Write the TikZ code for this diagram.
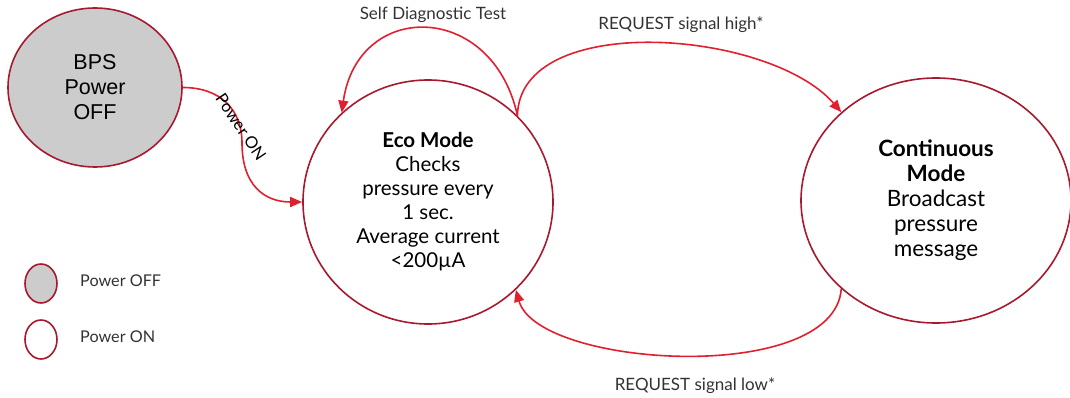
\documentclass[tikz,border=0pt]{standalone}
\usepackage{fontspec}
\setmainfont{Lato}
\newfontfamily\bpsfont{Liberation Sans}
\usetikzlibrary{arrows.meta,shapes.geometric}
\definecolor{stateborder}{HTML}{A6192E}
\definecolor{flowred}{HTML}{E0202F}
\definecolor{graytext}{HTML}{333333}
\definecolor{offgray}{HTML}{CCCCCC}
\begin{document}
\begin{tikzpicture}[x=1pt,y=-1pt,
	state/.style={ellipse,draw=stateborder,line width=1.6pt,align=center,inner sep=0},
	flow/.style={draw=flowred,line width=1.6pt,-{Triangle[length=12pt,width=10pt]}},
	tag/.style={text=graytext,inner sep=0,font=\fontsize{17}{20}\selectfont}]
\useasboundingbox (0,0) rectangle (1070,398);
% states
\node[state,fill=offgray,minimum width=174pt,minimum height=159pt,
	font=\bpsfont\fontsize{21.5}{25}\selectfont] (bps) at (95,87.5) {BPS\\Power\\OFF};
\node[state,minimum width=250pt,minimum height=244pt,
	font=\fontsize{20.5}{24}\selectfont] (eco) at (428,202)
	{{\bfseries Eco Mode}\\Checks\\pressure every\\1 sec.\\Average current\\<200µA};
\node[state,minimum width=270pt,minimum height=245pt,
	font=\fontsize{22.5}{25}\selectfont] (cont) at (936,200.5)
	{{\bfseries Continuous}\\{\bfseries Mode}\\Broadcast\\pressure\\message};
% legend
\node[state,fill=offgray,minimum width=32pt,minimum height=39pt] (keyoff) at (41,283.5) {};
\node[state,minimum width=32pt,minimum height=39pt] (keyon) at (41,339.5) {};
\node[tag,anchor=west,font=\fontsize{16.2}{19}\selectfont] (keyofftxt) at (80,281) {Power OFF};
\node[tag,anchor=west,font=\fontsize{16.2}{19}\selectfont] (keyontxt) at (80,337) {Power ON};
% transitions
\coordinate (bend) at (242,143);
\draw[flow] (bps.east) .. controls +(38,0) and +(0,-33) .. (bend)
	.. controls +(0,42) and +(-38,0) .. (eco.west);
\node[font=\fontsize{16.5}{19}\selectfont,inner sep=0,rotate=-56] (pwron) at (241,127) {Power ON};
\draw[flow] (eco.44) .. controls +(-25,-115) and +(16,-113) .. (eco.134);
\node[tag] (selftest) at (433,15) {Self Diagnostic Test};
\draw[flow] (eco.44) .. controls +(2,-105) and +(-72,-83) .. (cont.137);
\node[tag] (reqhigh) at (681,25) {REQUEST signal high*};
\draw[flow] (cont.223) .. controls +(-7,97) and +(22,78) .. (eco.315);
\node[tag] (reqlow) at (695,386) {REQUEST signal low*};
\end{tikzpicture}
\end{document}
